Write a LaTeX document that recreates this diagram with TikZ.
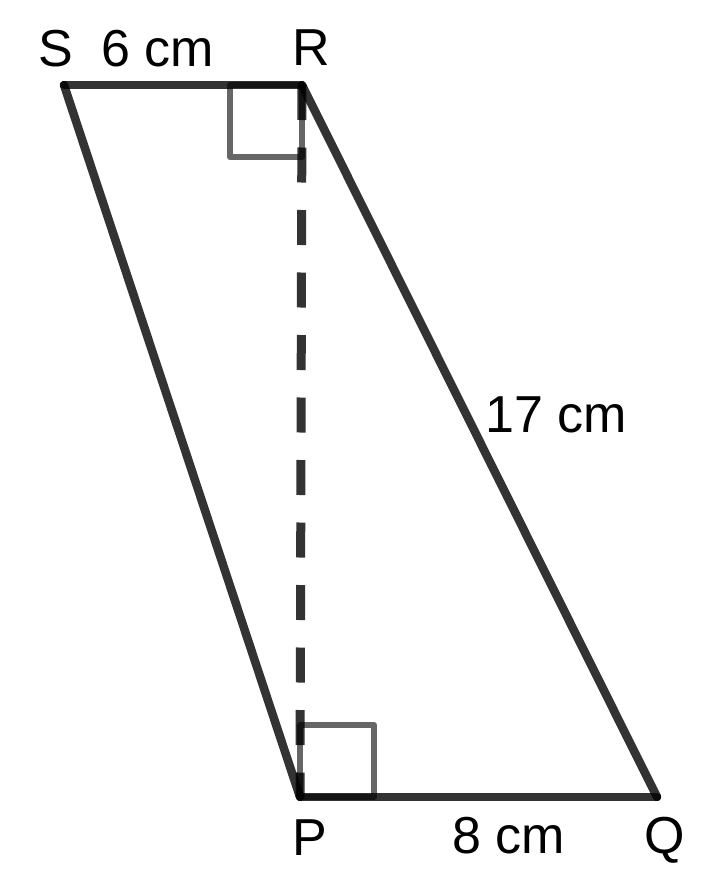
\documentclass[tikz,border=0pt]{standalone}
\usepackage{fontspec}
\setmainfont{Liberation Sans}
\begin{document}
\begin{tikzpicture}[x=1pt,y=-1pt,
  edge/.style={draw=black,draw opacity=0.8,line width=8.5pt,line cap=round},
  height/.style={draw=black,draw opacity=0.8,line width=9pt,dash pattern=on 35pt off 27.5pt},
  rightang/.style={draw=black,draw opacity=0.6,line width=6pt,line join=round},
  lbl/.style={anchor=base,inner sep=0pt,font=\fontsize{52}{60}\selectfont}]
\useasboundingbox (0,0) rectangle (707,886);
\coordinate (S) at (64,85);
\coordinate (R) at (302,85);
\coordinate (P) at (300,797);
\coordinate (Q) at (657,797);
% right angle marks
\draw[rightang] (230,85) rectangle (302,157);
\draw[rightang] (300,725) rectangle (374,797);
% height
\draw[height] (R) -- (P);
% edges
\draw[edge] (S) -- (R);
\draw[edge] (R) -- (Q);
\draw[edge] (Q) -- (P);
\draw[edge] (P) -- (S);
% labels
\node[lbl] (lS) at (56,66) {S};
\node[lbl] (l6) at (158,66) {6 cm};
\node[lbl] (lR) at (311,65) {R};
\node[lbl] (l17) at (556,432) {17 cm};
\node[lbl] (lP) at (310,855) {P};
\node[lbl] (l8) at (509,853) {8 cm};
\node[lbl] (lQ) at (665,853) {Q};
\end{tikzpicture}
\end{document}
